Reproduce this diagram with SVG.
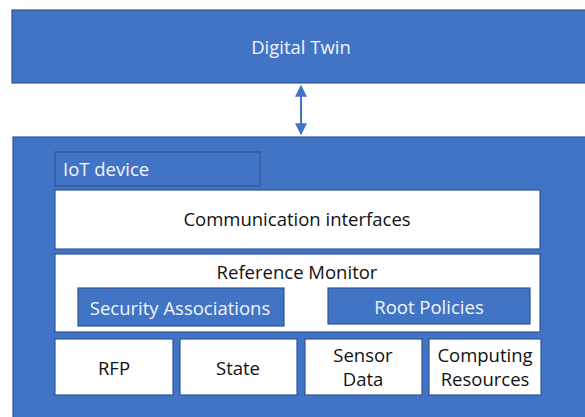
<svg xmlns="http://www.w3.org/2000/svg" width="585" height="417" viewBox="0 0 585 417">
  <style>
    .blue { fill: #4174C5; stroke: #2F5597; stroke-width: 1.2; }
    .white { fill: #FFFFFF; stroke: #2F5597; stroke-width: 1.2; }
    .lt { font-family: "Open Sans", "Liberation Sans", sans-serif; font-size: 18.5px; fill: #F2F5FB; }
    .dk { font-family: "Open Sans", "Liberation Sans", sans-serif; font-size: 18.5px; fill: #111111; }
  </style>
  <defs>
    <marker id="head" viewBox="0 0 10 10" refX="9" refY="5" markerWidth="6" markerHeight="6" orient="auto-start-reverse">
      <path d="M0,0 L10,5 L0,10 z" fill="#4174C5"/>
    </marker>
  </defs>
  <rect width="585" height="417" fill="#FFFFFF"/>

  <g id="digital-twin">
    <rect class="blue" x="12" y="10" width="580" height="73"/>
    <text class="lt" x="301" y="54" text-anchor="middle">Digital Twin</text>
  </g>

  <g id="connectors">
    <line x1="301" y1="86" x2="301" y2="134" stroke="#4174C5" stroke-width="2" marker-start="url(#head)" marker-end="url(#head)"/>
  </g>

  <g id="iot-device">
    <rect class="blue" x="13" y="137" width="580" height="290"/>
    <rect class="blue" x="55" y="152" width="205" height="34"/>
    <text class="lt" x="63" y="176">IoT device</text>
  </g>

  <g id="communication-interfaces">
    <rect class="white" x="55" y="190" width="485" height="59"/>
    <text class="dk" x="297" y="226" text-anchor="middle">Communication interfaces</text>
  </g>

  <g id="reference-monitor">
    <rect class="white" x="55" y="254" width="485" height="78"/>
    <text class="dk" x="297" y="279" text-anchor="middle">Reference Monitor</text>
  </g>

  <g id="security-associations">
    <rect class="blue" x="78" y="288" width="206" height="38"/>
    <text class="lt" x="180" y="315" text-anchor="middle">Security Associations</text>
  </g>

  <g id="root-policies">
    <rect class="blue" x="328" y="288" width="202" height="36"/>
    <text class="lt" x="429" y="314" text-anchor="middle">Root Policies</text>
  </g>

  <g id="rfp">
    <rect class="white" x="55" y="339" width="118" height="56"/>
    <text class="dk" x="114" y="375" text-anchor="middle">RFP</text>
  </g>

  <g id="state">
    <rect class="white" x="180" y="339" width="117" height="56"/>
    <text class="dk" x="238" y="375" text-anchor="middle">State</text>
  </g>

  <g id="sensor-data">
    <rect class="white" x="305" y="339" width="117" height="56"/>
    <text class="dk" x="363" y="362" text-anchor="middle">Sensor</text>
    <text class="dk" x="363" y="386" text-anchor="middle">Data</text>
  </g>

  <g id="computing-resources">
    <rect class="white" x="429" y="339" width="112" height="56"/>
    <text class="dk" x="485" y="362" text-anchor="middle">Computing</text>
    <text class="dk" x="485" y="386" text-anchor="middle">Resources</text>
  </g>
</svg>
